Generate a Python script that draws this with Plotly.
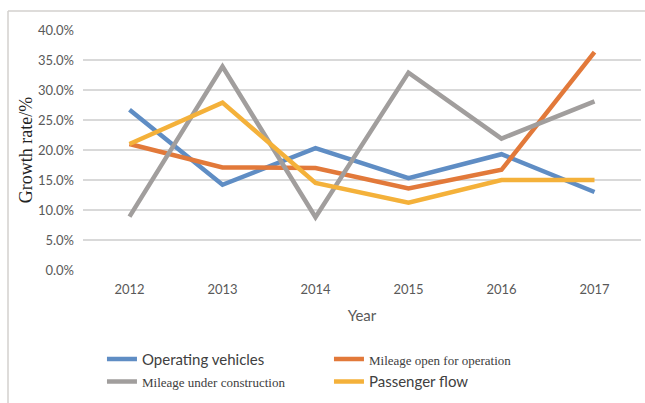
import plotly.graph_objects as go

years = ["2012", "2013", "2014", "2015", "2016", "2017"]
operating_vehicles = [26.7, 14.2, 20.3, 15.3, 19.3, 13.0]
mileage_open = [21.0, 17.1, 17.0, 13.6, 16.7, 36.3]
mileage_construction = [8.9, 33.9, 8.8, 32.9, 21.9, 28.1]
passenger_flow = [21.0, 27.9, 14.5, 11.2, 15.0, 15.0]

series_names = [
    "Operating vehicles",
    "<span style='font-family:Liberation Serif;font-size:13px'>Mileage open for operation</span>",
    "<span style='font-family:Liberation Serif;font-size:13px'>Mileage under construction</span>",
    "Passenger flow",
]
series_values = [operating_vehicles, mileage_open, mileage_construction, passenger_flow]
colors = ["#5F8DC4", "#E2793A", "#A19E9D", "#F4B13A"]

y_ticks = [0, 5, 10, 15, 20, 25, 30, 35, 40]

fig = go.Figure()
for name, vals, col in zip(series_names, series_values, colors):
    fig.add_trace(go.Scatter(
        x=years, y=vals, mode="lines", name=name,
        line=dict(color=col, width=4.5),
    ))

frame_x = -75 / 558
frame_y = 1 + 19 / 240
fig.update_layout(
    width=645, height=403,
    margin=dict(l=83, r=4, t=30, b=133),
    paper_bgcolor="white", plot_bgcolor="white",
    font=dict(family="Lato", color="#595959", size=13),
    showlegend=True,
    legend=dict(
        orientation="h", x=0.034, xanchor="left", y=-0.303, yanchor="top",
        entrywidth=182, entrywidthmode="pixels",
        font=dict(family="Lato", size=15, color="#404040"),
        tracegroupgap=0, itemwidth=30,
    ),
    shapes=[
        dict(type="line", xref="paper", yref="paper",
             x0=frame_x, x1=frame_x, y0=-0.6, y1=frame_y,
             line=dict(color="#D3D0CE", width=1.5), layer="above"),
        dict(type="line", xref="paper", yref="paper",
             x0=frame_x, x1=1.05, y0=frame_y, y1=frame_y,
             line=dict(color="#D3D0CE", width=1.5), layer="above"),
    ],
)
fig.update_xaxes(
    type="category", range=[-0.5, 5.5], showgrid=False, showline=False,
    ticks="", ticklabelstandoff=10,
    title=dict(text="Year", font=dict(family="Lato", size=15, color="#595959"), standoff=14),
)
fig.update_yaxes(
    range=[0, 40], tickvals=y_ticks, ticktext=[f"{v:.1f}%" for v in y_ticks],
    showgrid=True, gridcolor="#D9D9D9", gridwidth=1.5, zeroline=False, showline=False,
    ticks="", ticklabelstandoff=8,
    title=dict(text="Growth rate/%", font=dict(family="Liberation Serif", size=18, color="#222222"), standoff=0),
)

fig.write_html("out.html", config={"displayModeBar": False},
               post_script="document.body.style.margin='0';")
